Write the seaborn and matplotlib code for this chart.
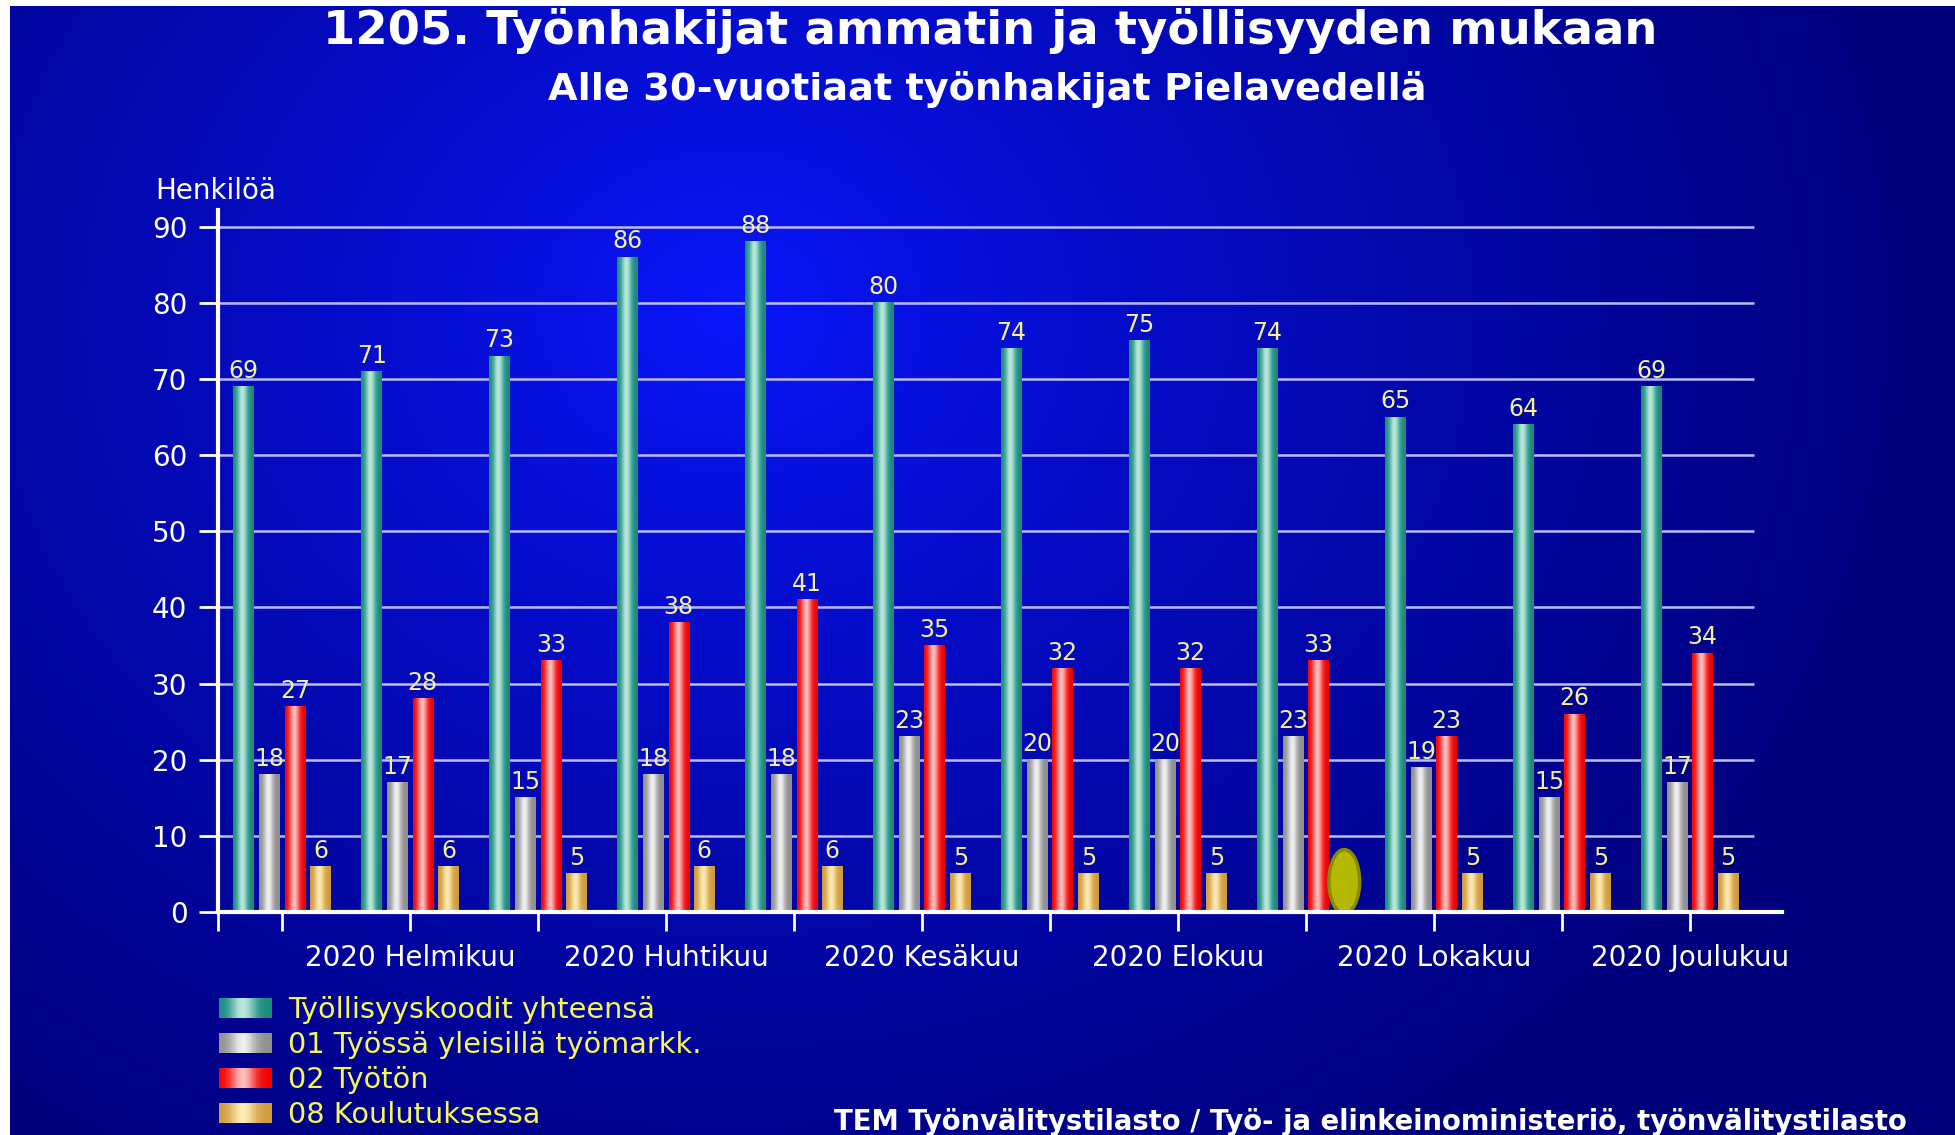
import numpy as np
import pandas as pd
import matplotlib
matplotlib.use("Agg")
import matplotlib.pyplot as plt
import seaborn as sns
from matplotlib.colors import to_rgb
from matplotlib.patches import Rectangle, Ellipse
from matplotlib.legend_handler import HandlerBase

# --- data ---
months = ["2020 Tammikuu", "2020 Helmikuu", "2020 Maaliskuu", "2020 Huhtikuu",
          "2020 Toukokuu", "2020 Kesäkuu", "2020 Heinäkuu", "2020 Elokuu",
          "2020 Syyskuu", "2020 Lokakuu", "2020 Marraskuu", "2020 Joulukuu"]
series = ["Työllisyyskoodit yhteensä", "01 Työssä yleisillä työmarkk.",
          "02 Työtön", "08 Koulutuksessa"]
total    = [69, 71, 73, 86, 88, 80, 74, 75, 74, 65, 64, 69]
tyossa   = [18, 17, 15, 18, 18, 23, 20, 20, 23, 19, 15, 17]
tyoton   = [27, 28, 33, 38, 41, 35, 32, 32, 33, 23, 26, 34]
koulutus = [6, 6, 5, 6, 6, 5, 5, 5, np.nan, 5, 5, 5]
y_ticks  = list(range(0, 100, 10))

edge_cols  = ["#178a7e", "#8e8e8e", "#f00000", "#d09a3a"]
light_cols = ["#b8e8da", "#eeeeee", "#ffbcbc", "#fcebb4"]
value_col  = "#f4f09a"
legend_col = "#f6f55a"

W, H = 1955, 1135


def shade(edge, light, n=64):
    # cylinder-like horizontal shading
    t = np.linspace(0, 1, n)
    w = np.exp(-((t - 0.45) / 0.24) ** 2)
    e = np.array(to_rgb(edge))
    l = np.array(to_rgb(light))
    return e[None, :] * (1 - w[:, None]) + l[None, :] * w[:, None]


class GradHandler(HandlerBase):
    def __init__(self, img):
        super().__init__()
        self.img = img

    def create_artists(self, legend, orig_handle, xdescent, ydescent,
                       width, height, fontsize, trans):
        n = len(self.img)
        arts = []
        for k in range(n):
            arts.append(Rectangle((-xdescent + width * k / n, -ydescent),
                                  width / n * 1.08, height,
                                  facecolor=self.img[k], edgecolor="none",
                                  transform=trans))
        return arts


df = pd.DataFrame({
    "kuukausi": months * 4,
    "sarja": np.repeat(series, len(months)),
    "arvo": total + tyossa + tyoton + koulutus,
})

plt.rcParams["font.family"] = ["DejaVu Sans"]

fig = plt.figure(figsize=(W / 100, H / 100), dpi=100, facecolor="white")

# radial blue background
bg = fig.add_axes([10 / W, 0, 1 - 10 / W, 1 - 6 / H])
gx, gy = np.meshgrid(np.linspace(0, 1, 400), np.linspace(0, 1, 240))
r = np.sqrt(((gx - 0.37) / 0.62) ** 2 + ((gy - 0.27) / 0.9) ** 2)
r = np.clip(r, 0, 1) ** 0.8
c_in = np.array(to_rgb("#0a16ff"))
c_out = np.array(to_rgb("#00007c"))
bg_img = c_in[None, None, :] * (1 - r[..., None]) + c_out[None, None, :] * r[..., None]
bg.imshow(bg_img, aspect="auto", extent=[0, 1, 0, 1], interpolation="bilinear")
bg.axis("off")

ax = fig.add_axes([218 / W, 1 - 912 / H, (1782 - 218) / W, (912 - 210) / H])
ax.set_facecolor("none")

sns.barplot(data=df, x="kuukausi", y="arvo", hue="sarja", order=months,
            hue_order=series, palette=edge_cols, saturation=1, width=0.8,
            gap=0.2, errorbar=None, legend=False, ax=ax, zorder=2)

ax.hlines(y_ticks[1:], -0.5, len(months) - 0.5, color="#bcbcff", lw=1.8, zorder=1)

imgs = [shade(e, l) for e, l in zip(edge_cols, light_cols)]
bar_offset = None
for i, cont in enumerate(ax.containers):
    for bar in cont:
        h = bar.get_height()
        x, w = bar.get_x(), bar.get_width()
        if i == 3 and bar_offset is None:
            bar_offset = x + w / 2
        if not np.isfinite(h) or h <= 0:
            continue
        bar.set_edgecolor("none")
        ax.imshow(imgs[i][None, :, :], extent=[x, x + w, 0, h], aspect="auto",
                  interpolation="bilinear", zorder=3)
        ax.text(x + w / 2, h + 0.5, f"{h:.0f}", ha="center", va="bottom",
                color=value_col, fontsize=17, zorder=5)

# odd olive marker drawn where the missing September value sits
for k, v in enumerate(koulutus):
    if not np.isfinite(v):
        ax.add_patch(Ellipse((k + bar_offset, 4), 0.24, 8.4, facecolor="#b4b800",
                             edgecolor="#8a8a00", lw=2.5, zorder=4))

ax.set_xlim(-0.5, 11.72)
ax.set_ylim(0, 92.2)

for s in ["top", "right"]:
    ax.spines[s].set_visible(False)
for s in ["left", "bottom"]:
    ax.spines[s].set_color("white")
    ax.spines[s].set_linewidth(3)
    ax.spines[s].set_zorder(6)

ax.set_yticks(y_ticks)
ax.set_yticklabels([str(v) for v in y_ticks])
ax.set_xticks(range(len(months)))
ax.set_xticklabels([m if i % 2 == 1 else "" for i, m in enumerate(months)])
ax.set_xticks([-0.5], minor=True)
ax.tick_params(axis="y", direction="out", length=14, width=2, colors="white",
               labelsize=20, pad=8)
ax.tick_params(axis="x", which="both", direction="out", length=14, width=2,
               colors="white", labelsize=20, pad=9)
ax.set_xlabel("")
ax.set_ylabel("")

fig.text(155 / W, 1 - 191 / H, "Henkilöä", ha="left", va="center",
         color="white", fontsize=20)
fig.text(990 / W, 1 - 31 / H, "1205. Työnhakijat ammatin ja työllisyyden mukaan",
         ha="center", va="center", color="white", fontsize=33.5, fontweight="bold")
fig.text(987 / W, 1 - 90 / H, "Alle 30-vuotiaat työnhakijat Pielavedellä",
         ha="center", va="center", color="white", fontsize=27.5, fontweight="bold")
fig.text(1907 / W, 13 / H,
         "TEM Työnvälitystilasto / Työ- ja elinkeinoministeriö, työnvälitystilasto",
         ha="right", va="center", color="white", fontsize=19.8, fontweight="bold")

handles = [Rectangle((0, 0), 1, 1) for _ in series]
fig.legend(handles, series, loc="upper left",
           bbox_to_anchor=(219 / W, 1 - 996 / H), frameon=False, fontsize=20.7,
           labelcolor=legend_col, handlelength=1.85, handleheight=0.7,
           handletextpad=0.55, labelspacing=0.24, borderaxespad=0, borderpad=0,
           handler_map={h: GradHandler(img) for h, img in zip(handles, imgs)})

fig.savefig("out.png", dpi=100, facecolor=fig.get_facecolor())
